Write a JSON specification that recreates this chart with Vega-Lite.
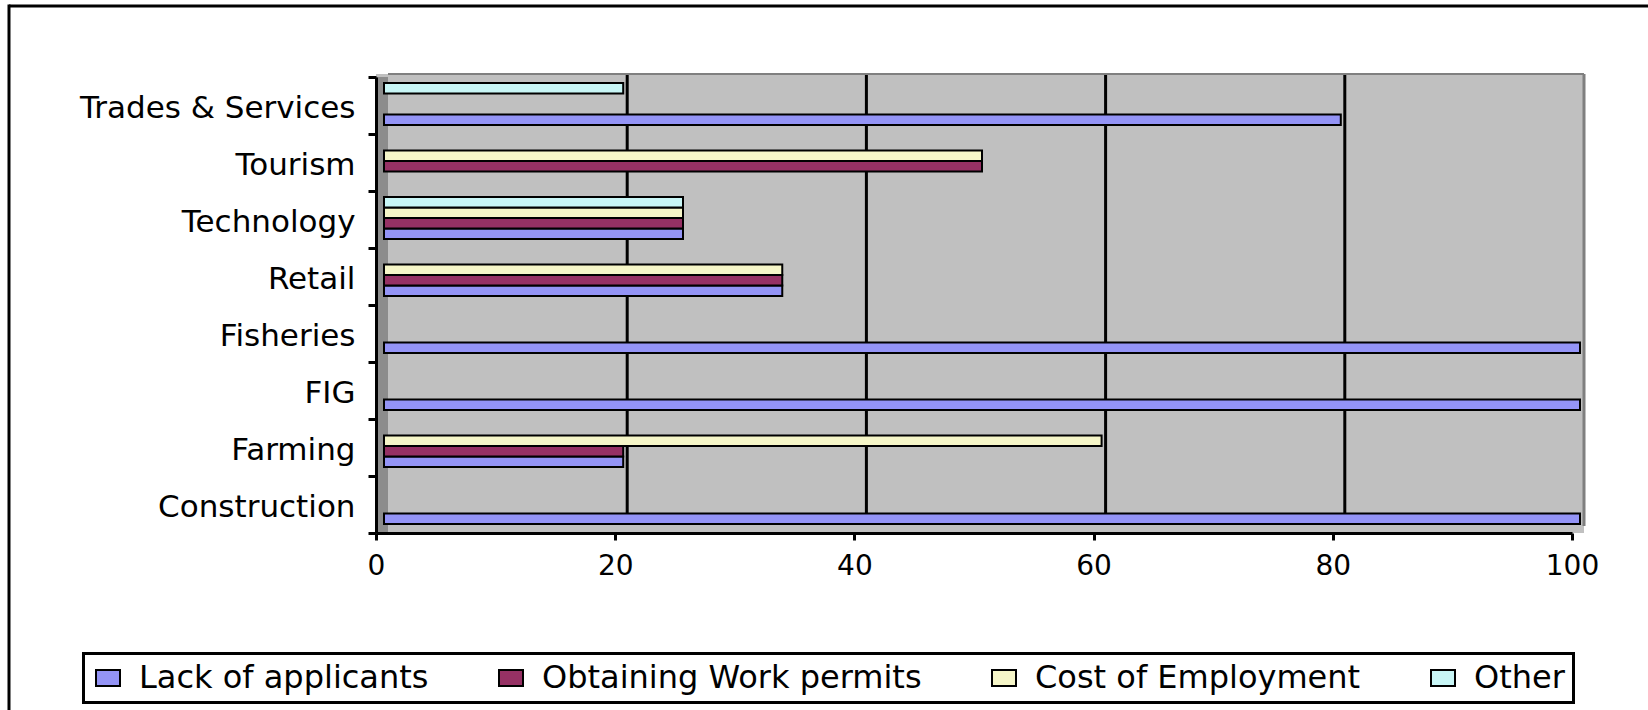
{
  "$schema": "https://vega.github.io/schema/vega-lite/v6.json",
  "width": 1196,
  "height": 456,
  "autosize": "none",
  "padding": {"left": 376, "top": 77, "right": 76, "bottom": 177},
  "background": "white",
  "config": {
    "font": "DejaVu Sans",
    "view": {"stroke": null}
  },
  "layer": [
    {
      "description": "outer frame, top edge",
      "data": {"values": [{"part": "frame top"}]},
      "mark": {"type": "rule", "color": "black", "strokeWidth": 3, "yOffset": -71},
      "encoding": {
        "x": {"datum": -30.686, "type": "quantitative", "title": null},
        "x2": {"datum": 106.5},
        "y": {"datum": "Trades & Services", "type": "nominal", "bandPosition": 0, "title": null}
      }
    },
    {
      "description": "outer frame, left edge",
      "data": {"values": [{"part": "frame left"}]},
      "mark": {"type": "rule", "color": "black", "strokeWidth": 3, "yOffset": -72.5, "y2Offset": 180},
      "encoding": {
        "x": {"datum": -30.686, "type": "quantitative", "title": null},
        "y": {"datum": "Trades & Services", "type": "nominal", "bandPosition": 0, "title": null},
        "y2": {"datum": "Construction", "bandPosition": 1}
      }
    },
    {
      "description": "back wall of the plot box",
      "data": {"values": [{"part": "wall"}]},
      "mark": {"type": "rect", "fill": "#C0C0C0", "x2Offset": 12, "yOffset": -3},
      "encoding": {
        "x": {"datum": 0, "type": "quantitative", "title": null},
        "x2": {"datum": 100},
        "y": {"datum": "Trades & Services", "type": "nominal", "bandPosition": 0, "title": null},
        "y2": {"datum": "Construction", "bandPosition": 1}
      }
    },
    {
      "description": "side wall",
      "data": {"values": [{"part": "side"}]},
      "mark": {"type": "rect", "fill": "#8C8C8C", "x2Offset": 12},
      "encoding": {
        "x": {"datum": 0, "type": "quantitative", "title": null},
        "x2": {"datum": 0},
        "y": {"datum": "Trades & Services", "type": "nominal", "bandPosition": 0, "title": null},
        "y2": {"datum": "Construction", "bandPosition": 1}
      }
    },
    {
      "description": "gridlines on the back wall",
      "data": {"values": [{"tick": 20}, {"tick": 40}, {"tick": 60}, {"tick": 80}]},
      "mark": {"type": "rule", "color": "black", "strokeWidth": 3, "xOffset": 12, "yOffset": -3, "y2Offset": -8},
      "encoding": {
        "x": {"field": "tick", "type": "quantitative", "title": null},
        "y": {"datum": "Trades & Services", "type": "nominal", "bandPosition": 0, "title": null},
        "y2": {"datum": "Construction", "bandPosition": 1}
      }
    },
    {
      "description": "top edge of the back wall",
      "data": {"values": [{"part": "top"}]},
      "mark": {"type": "rule", "color": "#808080", "strokeWidth": 2, "xOffset": 12, "x2Offset": 12, "yOffset": -3},
      "encoding": {
        "x": {"datum": 0, "type": "quantitative", "title": null},
        "x2": {"datum": 100},
        "y": {"datum": "Trades & Services", "type": "nominal", "bandPosition": 0, "title": null}
      }
    },
    {
      "description": "right edge of the back wall",
      "data": {"values": [{"part": "right"}]},
      "mark": {"type": "rule", "color": "#7F7F7F", "strokeWidth": 3, "xOffset": 12, "yOffset": -3, "y2Offset": -7},
      "encoding": {
        "x": {"datum": 100, "type": "quantitative", "title": null},
        "y": {"datum": "Trades & Services", "type": "nominal", "bandPosition": 0, "title": null},
        "y2": {"datum": "Construction", "bandPosition": 1}
      }
    },
    {
      "data": {
        "values": [
          {"sector": "Trades & Services", "difficulty": "Lack of applicants", "share": 80},
          {"sector": "Trades & Services", "difficulty": "Other", "share": 20},
          {"sector": "Tourism", "difficulty": "Obtaining Work permits", "share": 50},
          {"sector": "Tourism", "difficulty": "Cost of Employment", "share": 50},
          {"sector": "Technology", "difficulty": "Lack of applicants", "share": 25},
          {"sector": "Technology", "difficulty": "Obtaining Work permits", "share": 25},
          {"sector": "Technology", "difficulty": "Cost of Employment", "share": 25},
          {"sector": "Technology", "difficulty": "Other", "share": 25},
          {"sector": "Retail", "difficulty": "Lack of applicants", "share": 33.3},
          {"sector": "Retail", "difficulty": "Obtaining Work permits", "share": 33.3},
          {"sector": "Retail", "difficulty": "Cost of Employment", "share": 33.3},
          {"sector": "Fisheries", "difficulty": "Lack of applicants", "share": 100},
          {"sector": "FIG", "difficulty": "Lack of applicants", "share": 100},
          {"sector": "Farming", "difficulty": "Lack of applicants", "share": 20},
          {"sector": "Farming", "difficulty": "Obtaining Work permits", "share": 20},
          {"sector": "Farming", "difficulty": "Cost of Employment", "share": 60},
          {"sector": "Construction", "difficulty": "Lack of applicants", "share": 100}
        ]
      },
      "mark": {"type": "bar", "stroke": "black", "strokeWidth": 2, "xOffset": 8, "x2Offset": 2},
      "encoding": {
        "y": {
          "field": "sector",
          "type": "nominal",
          "title": null,
          "scale": {
            "domain": ["Trades & Services", "Tourism", "Technology", "Retail", "Fisheries", "FIG", "Farming", "Construction"],
            "paddingInner": 0,
            "paddingOuter": 0
          },
          "axis": {
            "title": null,
            "domain": true,
            "domainColor": "black",
            "domainWidth": 3,
            "grid": false,
            "tickBand": "extent",
            "tickColor": "black",
            "tickWidth": 3,
            "tickSize": 8,
            "labelFont": "DejaVu Sans",
            "labelFontSize": 31,
            "labelColor": "black",
            "labelPadding": 13,
            "labelOffset": 3,
            "labelLimit": 500,
            "zindex": 1
          }
        },
        "x": {
          "field": "share",
          "type": "quantitative",
          "title": null,
          "scale": {"domain": [0, 100], "nice": false, "zero": true},
          "axis": {
            "values": [0, 20, 40, 60, 80, 100],
            "title": null,
            "domain": true,
            "domainColor": "black",
            "domainWidth": 3,
            "grid": false,
            "tickColor": "black",
            "tickWidth": 3,
            "tickSize": 7,
            "labelFont": "DejaVu Sans",
            "labelFontSize": 28,
            "labelColor": "black",
            "labelPadding": 12,
            "labelFlush": false,
            "labelOverlap": false,
            "zindex": 1
          }
        },
        "yOffset": {
          "field": "difficulty",
          "type": "nominal",
          "scale": {
            "domain": ["Other", "Cost of Employment", "Obtaining Work permits", "Lack of applicants"],
            "paddingInner": 0,
            "paddingOuter": 0.714286,
            "align": 0.4
          }
        },
        "color": {
          "field": "difficulty",
          "type": "nominal",
          "scale": {
            "domain": ["Lack of applicants", "Obtaining Work permits", "Cost of Employment", "Other"],
            "range": ["#9494F6", "#963164", "#F6F6C8", "#C8F6F6"]
          },
          "legend": {
            "title": null,
            "orient": "none",
            "legendX": -292.5,
            "legendY": 576.5,
            "direction": "horizontal",
            "columns": 4,
            "symbolType": "M-1,-0.667H1V0.667H-1Z",
            "symbolSize": 576,
            "symbolStrokeColor": "black",
            "symbolStrokeWidth": 2,
            "symbolOpacity": 1,
            "labelFont": "DejaVu Sans",
            "labelFontSize": 32,
            "labelColor": "black",
            "labelLimit": 600,
            "labelOffset": 15,
            "columnPadding": 66,
            "padding": 8.5,
            "strokeColor": "black",
            "encode": {
              "legend": {"update": {"strokeWidth": {"value": 3}}},
              "symbols": {"update": {"stroke": {"value": "black"}, "strokeWidth": {"value": 2}}}
            }
          }
        }
      }
    }
  ]
}
